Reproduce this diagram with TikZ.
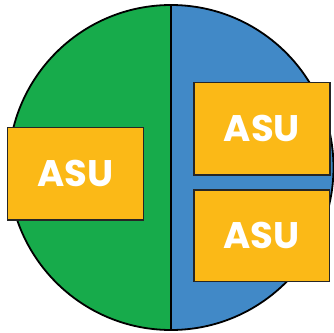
\documentclass[tikz,border=0pt]{standalone}
\usepackage{fontspec}
\newfontfamily\asufont{Poppins}[UprightFont=* Bold]
\definecolor{pgreen}{HTML}{17AB4B}
\definecolor{pblue}{HTML}{4189C7}
\definecolor{porange}{HTML}{FBB917}
\begin{document}
\begin{tikzpicture}[x=1pt,y=-1pt,
  asubox/.style={draw=black!85,line width=1.3pt,fill=porange,text=white,font=\asufont\fontsize{37}{37}\selectfont,inner sep=0pt,anchor=north west}]
\useasboundingbox (0,0) rectangle (334,332);
\coordinate (c) at (171,167.5);
\fill[pgreen] (171,5) arc[start angle=-90,end angle=-270,radius=162.5] -- cycle;
\fill[pblue] (171,5) arc[start angle=-90,end angle=90,radius=162.5] -- cycle;
\draw[line width=1.8pt] (c) circle[radius=162.5];
\coordinate (top) at (171,5);
\coordinate (bot) at (171,330);
\draw[line width=1.8pt] (top) -- (bot);
\node[asubox,minimum width=136pt,minimum height=92.5pt] (a1) at (6.7,126.7) {ASU};
\node[asubox,minimum width=136pt,minimum height=92.5pt] (a2) at (193.3,81.7) {ASU};
\node[asubox,minimum width=135.5pt,minimum height=91.5pt] (a3) at (193.3,189.3) {ASU};
\end{tikzpicture}
\end{document}
